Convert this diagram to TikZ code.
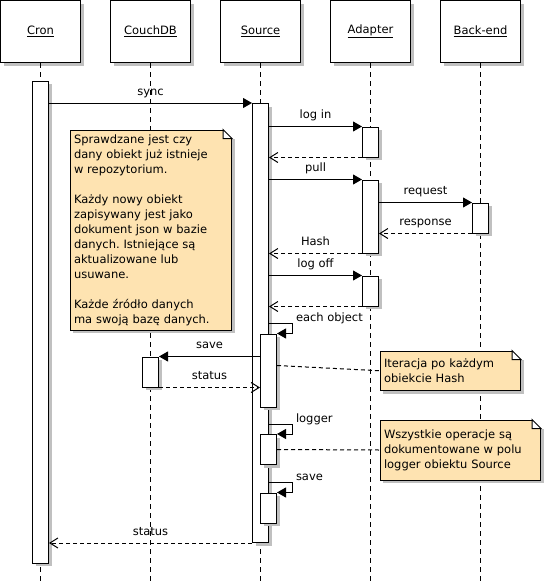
\documentclass[tikz,border=0pt]{standalone}
\usepackage{fontspec}
\setmainfont{DejaVu Sans}
\usetikzlibrary{arrows.meta,shadows}
\frenchspacing
\definecolor{notefill}{RGB}{254,227,177}
\definecolor{shadowgray}{RGB}{192,192,192}
\def\fold(#1){\fill[white] ([xshift=-9pt,yshift=0.6pt]#1.north east) rectangle ([xshift=3.6pt,yshift=-9pt]#1.north east);
	\draw ([xshift=-9pt]#1.north east) -- ([xshift=-9pt,yshift=-9pt]#1.north east) -- ([yshift=-9pt]#1.north east) -- cycle;}

\begin{document}
\begin{tikzpicture}[x=1pt, y=-1pt, line width=1pt, font=\fontsize{11.5}{15}\selectfont,
	shadowed/.style={general shadow={fill=shadowgray, shadow xshift=3pt, shadow yshift=-3pt}},
	actor/.style={draw, fill=white, minimum width=80pt, minimum height=62pt, shadowed},
	act/.style={draw, fill=white, minimum width=16pt, inner sep=0pt, anchor=north, shadowed},
	notebox/.style={draw, fill=notefill, align=left, inner xsep=4pt, inner ysep=0pt, shadowed},
	lifeline/.style={dash pattern=on 5pt off 4pt},
	call/.style={-{Triangle[length=9pt, width=10pt]}},
	reply/.style={dash pattern=on 4pt off 3pt, -{Straight Barb[length=8pt, width=10pt]}},
	noteline/.style={dash pattern=on 4pt off 3pt},
	lbl/.style={anchor=base, inner sep=0pt, yshift=8pt},
	selflbl/.style={anchor=base west, inner sep=0pt, xshift=3pt, yshift=2pt}]
			%%%%% START %%%%%
			\useasboundingbox (0,0) rectangle (545,587);
			
			\node[actor] (cron) at (40.5, 31.5) {\underline{Cron}};
			\node[actor] (couch) at (150.5, 31.5) {\underline{CouchDB}};
			\node[actor] (src) at (260.5, 31.5) {\underline{Source}};
			\node[actor] (adapter) at (370.5, 31.5) {\underline{Adapter}};
			\node[actor] (backend) at (480.5, 31.5) {\underline{Back-end}};
			
			\coordinate (bottom) at (0, 582);
			\foreach \n in {cron, couch, src, adapter, backend}
				\draw[lifeline] (\n) -- (\n |- bottom);
			
			% activations
			\node[act, minimum height=482pt] (cronact) at (40.5, 80.5) {};
			\node[act, minimum height=439pt] (srcact) at (260.5, 103) {};
			\node[act, minimum height=30pt] (adlogin) at (370.5, 126.5) {};
			\node[act, minimum height=73pt] (adpull) at (370.5, 179.5) {};
			\node[act, minimum height=30pt] (bereq) at (480.5, 202.5) {};
			\node[act, minimum height=30pt] (adlogoff) at (370.5, 275.5) {};
			\node[act, minimum height=73pt] (iter) at (268.5, 333.5) {};
			\node[act, minimum height=30pt] (couchact) at (150.5, 356.5) {};
			\node[act, minimum height=30pt] (logact) at (268.5, 434) {};
			\node[act, minimum height=30pt] (saveact) at (268.5, 492.5) {};
			
			% notes
			\node[notebox, text width=153.5pt, minimum height=200pt] (infonote) at (150.75, 230) {Sprawdzane jest czy\\dany obiekt już istnieje\\w repozytorium.\\[15pt]Każdy nowy obiekt\\zapisywany jest jako\\dokument json w bazie\\danych. Istniejące są\\aktualizowane lub\\usuwane.\\[15pt]Każde źródło danych\\ma swoją bazę danych.};
			\fold(infonote)
			\node[notebox, text width=132.5pt, minimum height=39.5pt] (iternote) at (450.25, 370.75) {Iteracja po każdym\\obiekcie Hash};
			\fold(iternote)
			\node[notebox, text width=152.5pt, minimum height=60pt] (lognote) at (460.25, 450) {Wszystkie operacje są\\dokumentowane w polu\\logger obiektu Source};
			\fold(lognote)
			\draw[noteline] ([yshift=5pt]iter.east) -- (iternote.west);
			\draw[noteline] (logact.east) -- (lognote.west);
			
			% messages
			\draw[call] (cronact.east |- srcact.north) -- node[lbl] {sync} (srcact.north west);
			
			\draw[call] (srcact.east |- adlogin.north) -- node[lbl] {log in} (adlogin.north west);
			\draw[reply] (adlogin.south west) -- (srcact.east |- adlogin.south);
			
			\draw[call] (srcact.east |- adpull.north) -- node[lbl] {pull} (adpull.north west);
			\draw[call] (adpull.east |- bereq.north) -- node[lbl] {request} (bereq.north west);
			\draw[reply] (bereq.south west) -- node[lbl] {response} (adpull.east |- bereq.south);
			\draw[reply] (adpull.south west) -- node[lbl] {Hash} (srcact.east |- adpull.south);
			
			\draw[call] (srcact.east |- adlogoff.north) -- node[lbl] {log off} (adlogoff.north west);
			\draw[reply] (adlogoff.south west) -- (srcact.east |- adlogoff.south);
			
			\draw[call] (srcact.east |- iter.north) ++(0,-10) -- ++(23.5,0) node[selflbl] {each object} |- (iter.north east);
			\draw[call] (iter.west |- couchact.north) -- node[lbl] {save} (couchact.north east);
			\draw[reply] (couchact.south east) -- node[lbl] {status} (iter.west |- couchact.south);
			
			\draw[call] (srcact.east |- logact.north) ++(0,-10) -- ++(23.5,0) node[selflbl] {logger} |- (logact.north east);
			\draw[call] (srcact.east |- saveact.north) ++(0,-10) -- ++(23.5,0) node[selflbl] {save} |- (saveact.north east);
			
			\draw[reply] (srcact.south west) -- node[lbl] {status} (cronact.east |- srcact.south);
			%%%%% END %%%%%
\end{tikzpicture}
\end{document}
